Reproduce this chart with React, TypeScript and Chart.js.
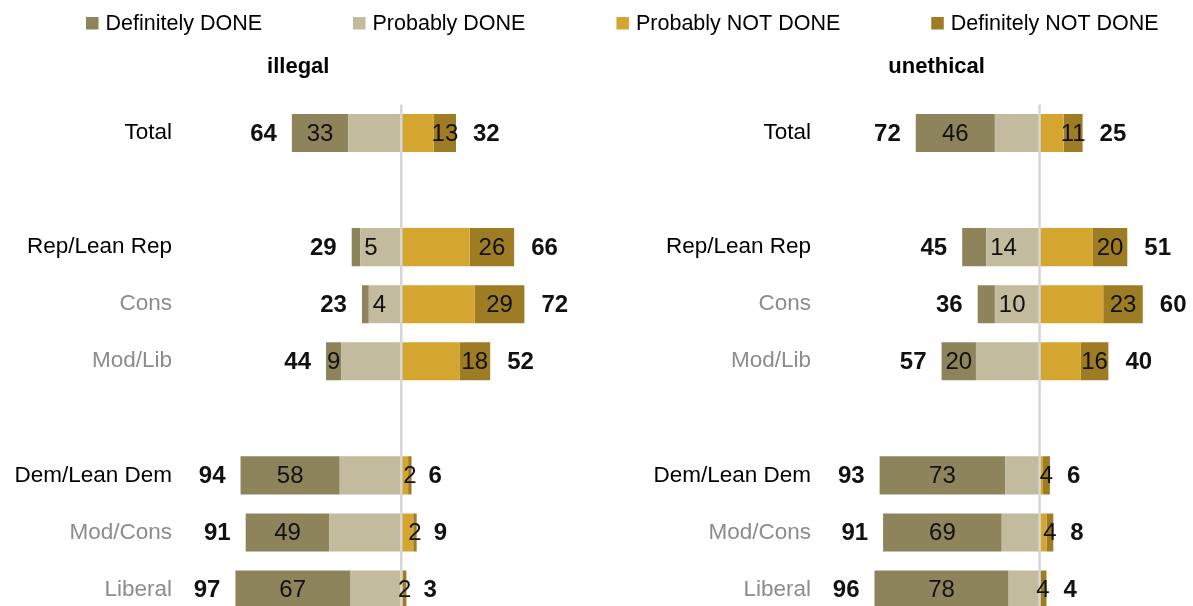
import React, { useEffect, useRef } from 'react';
import { Chart, registerables } from 'chart.js';

Chart.register(...registerables);

const FONT = "'Liberation Sans', Arial, sans-serif";

// ---------- data ----------
const categories = ['Total', '', 'Rep/Lean Rep', 'Cons', 'Mod/Lib', '', 'Dem/Lean Dem', 'Mod/Cons', 'Liberal'];
const subgroupRows = [false, false, false, true, true, false, false, true, true];

const seriesNames = ['Definitely DONE', 'Probably DONE', 'Probably NOT DONE', 'Definitely NOT DONE'];
const seriesColors = ['#8e845c', '#c2bb9e', '#d4a630', '#9d7c24'];

const panelTitles = ['illegal', 'unethical'];

// "illegal"
const illegalDefDone = [33, null, 5, 4, 9, null, 58, 49, 67];
const illegalProbDone = [31, null, 24, 19, 35, null, 36, 42, 30];
const illegalProbNot = [19, null, 40, 43, 34, null, 4, 7, 1];
const illegalDefNot = [13, null, 26, 29, 18, null, 2, 2, 2];
const illegalNetDone = [64, null, 29, 23, 44, null, 94, 91, 97];
const illegalNetNot = [32, null, 66, 72, 52, null, 6, 9, 3];

// "unethical"
const unethicalDefDone = [46, null, 14, 10, 20, null, 73, 69, 78];
const unethicalProbDone = [26, null, 31, 26, 37, null, 20, 22, 18];
const unethicalProbNot = [14, null, 31, 37, 24, null, 2, 4, 0];
const unethicalDefNot = [11, null, 20, 23, 16, null, 4, 4, 4];
const unethicalNetDone = [72, null, 45, 36, 57, null, 93, 91, 96];
const unethicalNetNot = [25, null, 51, 60, 40, null, 6, 8, 4];

type PanelData = {
  title: string;
  defDone: (number | null)[];
  probDone: (number | null)[];
  probNot: (number | null)[];
  defNot: (number | null)[];
  netDone: (number | null)[];
  netNot: (number | null)[];
};

const panels: PanelData[] = [
  {
    title: panelTitles[0],
    defDone: illegalDefDone,
    probDone: illegalProbDone,
    probNot: illegalProbNot,
    defNot: illegalDefNot,
    netDone: illegalNetDone,
    netNot: illegalNetNot,
  },
  {
    title: panelTitles[1],
    defDone: unethicalDefDone,
    probDone: unethicalProbDone,
    probNot: unethicalProbNot,
    defNot: unethicalDefNot,
    netDone: unethicalNetDone,
    netNot: unethicalNetNot,
  },
];

const W = 1193;
const H = 618;

function neg(a: (number | null)[]) {
  return a.map((v) => (v == null ? null : -v));
}

function makeConfig(p: PanelData, side: 'left' | 'right', withLegend: boolean): any {
  const layoutPad =
    side === 'left'
      ? { top: 104.5, left: 0, right: 572, bottom: 0 }
      : { top: 104.5, left: 621, right: 0, bottom: 0 };
  const axisWidth = side === 'left' ? 179 : 195;
  const tickPad = side === 'left' ? 7 : 5;
  const xMin = -130;
  const xMax = side === 'left' ? 128.5 : 89.2;

  const panelPlugin = {
    id: 'panelDecor' + side,
    afterDatasetsDraw(chart: any) {
      const ctx = chart.ctx;
      const xs = chart.scales.x;
      const area = chart.chartArea;
      const x0 = xs.getPixelForValue(0);
      // centre line
      ctx.save();
      ctx.strokeStyle = '#d6d6d6';
      ctx.lineWidth = 2.5;
      ctx.beginPath();
      ctx.moveTo(x0, area.top);
      ctx.lineTo(x0, area.bottom);
      ctx.stroke();

      const mProbDone = chart.getDatasetMeta(0);
      const mDefDone = chart.getDatasetMeta(1);
      const mDefNot = chart.getDatasetMeta(3);
      ctx.textBaseline = 'middle';
      ctx.fillStyle = '#111';
      for (let j = 0; j < categories.length; j++) {
        if (p.defDone[j] == null) continue;
        const eDD = mDefDone.data[j];
        const eDN = mDefNot.data[j];
        const ePD = mProbDone.data[j];
        const y = eDD.y + 1;
        // definitely DONE label
        const ddL = Math.min(eDD.x, eDD.base);
        const ddR = Math.max(eDD.x, eDD.base);
        ctx.font = `24px ${FONT}`;
        const tDD = String(p.defDone[j]);
        const wDD = ctx.measureText(tDD).width;
        if (wDD > ddR - ddL) {
          ctx.textAlign = 'left';
          ctx.fillText(tDD, ddR + 4, y);
        } else {
          ctx.textAlign = 'center';
          ctx.fillText(tDD, (ddL + ddR) / 2, y);
        }
        // definitely NOT DONE label
        const dnL = Math.min(eDN.x, eDN.base);
        const dnR = Math.max(eDN.x, eDN.base);
        ctx.textAlign = 'center';
        ctx.fillText(String(p.defNot[j]), (dnL + dnR) / 2, y);
        // nets
        const leftEnd = Math.min(ddL, ePD.x);
        ctx.font = `bold 24px ${FONT}`;
        ctx.textAlign = 'right';
        ctx.fillText(String(p.netDone[j]), leftEnd - 15, y);
        ctx.textAlign = 'left';
        ctx.fillText(String(p.netNot[j]), Math.max(dnR, x0) + 17, y);
      }
      ctx.restore();
    },
    afterDraw(chart: any) {
      const ctx = chart.ctx;
      const xs = chart.scales.x;
      const x0 = xs.getPixelForValue(0);
      ctx.save();
      ctx.fillStyle = '#000';
      ctx.font = `bold 22px ${FONT}`;
      ctx.textAlign = 'center';
      ctx.textBaseline = 'alphabetic';
      ctx.fillText(p.title, x0 - 103, 72.5);

      if (withLegend) {
        ctx.font = `21.5px ${FONT}`;
        ctx.textAlign = 'left';
        let cx = 86;
        for (let i = 0; i < seriesNames.length; i++) {
          ctx.fillStyle = seriesColors[i];
          ctx.fillRect(cx, 17, 12.5, 12.5);
          ctx.fillStyle = '#000';
          ctx.fillText(seriesNames[i], cx + 19.5, 30);
          cx += 19.5 + ctx.measureText(seriesNames[i]).width + 91;
        }
      }
      ctx.restore();
    },
  };

  return {
    type: 'bar',
    data: {
      labels: categories,
      datasets: [
        { label: seriesNames[1], data: neg(p.probDone), backgroundColor: seriesColors[1], stack: 's' },
        { label: seriesNames[0], data: neg(p.defDone), backgroundColor: seriesColors[0], stack: 's' },
        { label: seriesNames[2], data: p.probNot, backgroundColor: seriesColors[2], stack: 's' },
        { label: seriesNames[3], data: p.defNot, backgroundColor: seriesColors[3], stack: 's' },
      ],
    },
    options: {
      indexAxis: 'y',
      responsive: false,
      maintainAspectRatio: false,
      animation: false,
      devicePixelRatio: 1,
      layout: { padding: layoutPad },
      datasets: {
        bar: { barPercentage: 0.667, categoryPercentage: 1, borderWidth: 0 },
      },
      plugins: {
        legend: { display: false },
        title: { display: false },
        tooltip: { enabled: false },
      },
      scales: {
        x: {
          type: 'linear',
          stacked: true,
          min: xMin,
          max: xMax,
          display: false,
        },
        y: {
          type: 'category',
          stacked: true,
          position: 'left',
          grid: { display: false, drawTicks: false },
          border: { display: false },
          ticks: {
            padding: tickPad,
            font: { family: FONT, size: 22.5 },
            color: (c: any) => (subgroupRows[c.index] ? '#8c8c8c' : '#000'),
          },
          afterFit(scale: any) {
            scale.width = axisWidth;
            scale.paddingTop = 0;
            scale.paddingBottom = 0;
          },
        },
      },
    },
    plugins: [panelPlugin],
  };
}

export default function App() {
  const leftRef = useRef<HTMLCanvasElement | null>(null);
  const rightRef = useRef<HTMLCanvasElement | null>(null);

  useEffect(() => {
    const charts: Chart[] = [];
    if (leftRef.current) charts.push(new Chart(leftRef.current, makeConfig(panels[0], 'left', true)));
    if (rightRef.current) charts.push(new Chart(rightRef.current, makeConfig(panels[1], 'right', false)));
    return () => charts.forEach((c) => c.destroy());
  }, []);

  const canvasStyle: React.CSSProperties = {
    position: 'absolute',
    left: 0,
    top: 0,
    width: W,
    height: H,
  };

  return (
    <div
      style={{
        position: 'absolute',
        left: 0,
        top: 0,
        width: W,
        height: 606,
        overflow: 'hidden',
        background: '#fff',
      }}
    >
      <canvas ref={leftRef} width={W} height={H} style={canvasStyle} />
      <canvas ref={rightRef} width={W} height={H} style={canvasStyle} />
    </div>
  );
}
